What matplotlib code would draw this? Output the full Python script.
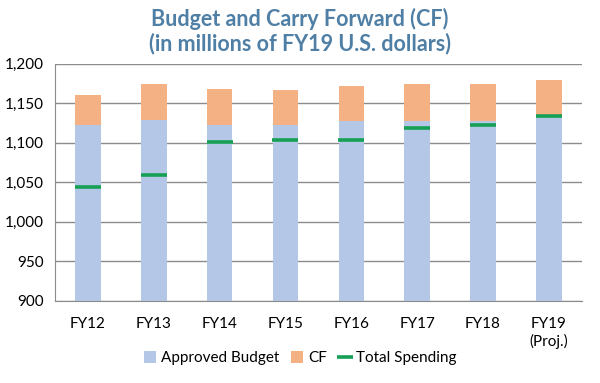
import numpy as np
import matplotlib.pyplot as plt
from matplotlib.ticker import FuncFormatter

plt.rcParams['font.family'] = ['Lato', 'DejaVu Sans']

years = ["FY12", "FY13", "FY14", "FY15", "FY16", "FY17", "FY18", "FY19\n(Proj.)"]
budget = [1122, 1129, 1122, 1122, 1127, 1128, 1128, 1135]
carry_fwd = [38, 46, 46, 45, 45, 46, 46, 45]
spending = [1044, 1059, 1101, 1103, 1103, 1119, 1123, 1134]

blue = "#B4C7E7"
orange = "#F4B183"
green = "#16A055"
grid_c = "#8C8C8C"

fig = plt.figure(figsize=(6, 3.83), dpi=100)
ax = fig.add_axes([0.0917, 0.2154, 0.878, 0.618])

x = np.arange(len(years))
w = 0.39
b1 = ax.bar(x, budget, w, color=blue, label="Approved Budget", zorder=2)
b2 = ax.bar(x, carry_fwd, w, bottom=budget, color=orange, label="CF", zorder=2)
ln, = ax.plot(x, spending, linestyle="none", marker="_", markersize=19,
              markeredgewidth=2.6, color=green, label="Total Spending", zorder=3)

ax.set_ylim(900, 1200)
ax.set_xlim(-0.5, len(years) - 0.5)
ax.set_yticks(range(900, 1201, 50))
ax.yaxis.set_major_formatter(FuncFormatter(lambda v, p: f"{int(v):,}"))
ax.set_xticks(x)
ax.set_xticklabels(years)
ax.tick_params(axis="both", length=0, labelsize=11, colors="#000000")
ax.tick_params(axis="y", pad=8)
ax.tick_params(axis="x", pad=12)
ax.yaxis.grid(True, color=grid_c, linewidth=1, zorder=0)
ax.set_axisbelow(True)
for s in ["top", "right"]:
    ax.spines[s].set_visible(False)
ax.spines["left"].set_color(grid_c)
ax.spines["bottom"].set_color(grid_c)

fig.text(0.5, 0.98, "Budget and Carry Forward (CF)\n(in millions of FY19 U.S. dollars)",
         ha="center", va="top", fontsize=15.5, fontweight="bold", color="#4F7FA5",
         linespacing=1.15)

leg_handles = [b1, b2, ln]
leg = fig.legend(leg_handles, [h.get_label() for h in leg_handles],
                 loc="lower center", bbox_to_anchor=(0.5, 0.01), ncol=3, frameon=False,
                 fontsize=11, handlelength=0.8, handleheight=0.8,
                 handletextpad=0.3, columnspacing=0.8)
leg.legend_handles[2].set_markersize(11)

fig.savefig("out.png", dpi=100)
